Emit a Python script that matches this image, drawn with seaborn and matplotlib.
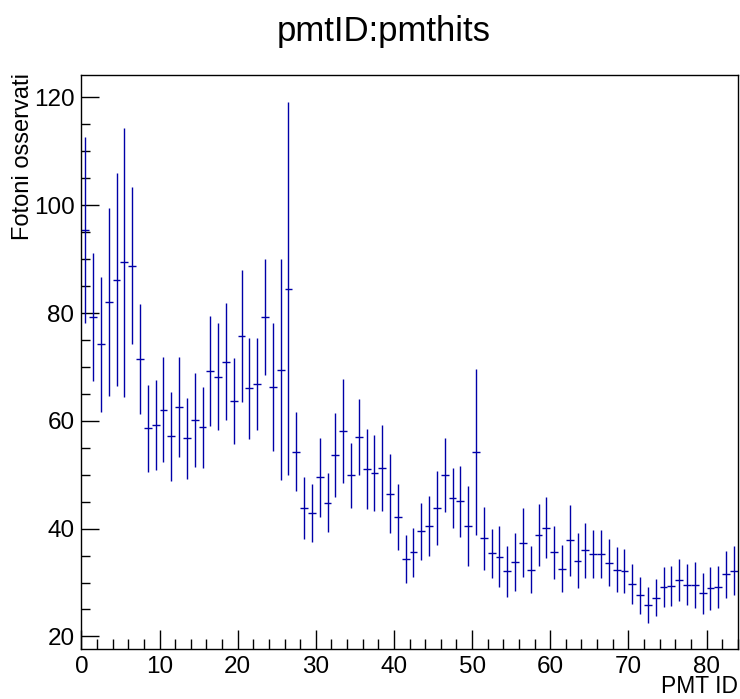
import numpy as np
import pandas as pd
import seaborn as sns
import matplotlib
matplotlib.use('Agg')
import matplotlib.pyplot as plt
from matplotlib.ticker import MultipleLocator

# ---- data (mean photons per PMT, error on the mean) ----
pmt_id = list(range(84))
mean_hits = [95.4, 79.2, 74.2, 82.0, 86.2, 89.4, 88.8, 71.4, 58.6, 59.2,
             62.1, 57.1, 62.6, 56.8, 60.2, 58.8, 69.2, 68.2, 71.0, 63.7,
             75.7, 66.0, 66.8, 79.3, 66.3, 69.5, 84.5, 54.3, 43.8, 42.9,
             49.5, 44.8, 53.7, 58.1, 49.9, 57.0, 51.1, 50.3, 51.3, 46.5,
             42.2, 34.4, 35.6, 39.5, 40.5, 43.8, 49.9, 45.7, 45.1, 40.5,
             54.3, 38.2, 35.4, 34.8, 32.1, 33.8, 37.4, 32.4, 38.8, 40.2,
             35.6, 32.6, 37.8, 34.0, 36.0, 35.3, 35.3, 33.7, 32.4, 32.2,
             29.8, 27.6, 25.8, 27.2, 29.2, 29.4, 30.4, 29.6, 29.6, 28.0,
             28.9, 29.2, 31.5, 32.2]
err_hits = [17.3, 11.9, 12.5, 17.4, 19.7, 24.9, 14.6, 10.2, 8.1, 8.3,
            9.8, 8.3, 9.3, 7.5, 8.7, 7.5, 10.2, 9.9, 10.8, 8.0,
            12.2, 9.3, 8.5, 10.8, 11.9, 20.5, 34.6, 7.3, 5.7, 5.3,
            7.3, 5.5, 7.8, 9.7, 6.0, 7.1, 7.4, 7.1, 8.0, 7.3,
            6.1, 4.4, 4.5, 5.3, 5.5, 6.8, 6.9, 5.6, 6.6, 7.4,
            15.4, 5.8, 4.6, 5.6, 4.7, 5.3, 6.4, 4.4, 5.7, 5.6,
            4.9, 4.3, 6.6, 5.1, 5.1, 4.5, 4.5, 4.3, 4.1, 4.1,
            3.7, 3.5, 3.3, 3.4, 3.7, 3.7, 3.9, 3.8, 4.3, 3.8,
            4.0, 3.9, 4.3, 4.6]

df = pd.DataFrame({'pmt': pmt_id, 'hits': mean_hits, 'err': err_hits})
df['center'] = df['pmt'] + 0.5

sns.set_theme(style='white')
plt.rcParams['font.family'] = ['Liberation Sans', 'DejaVu Sans']
plt.rcParams['text.color'] = 'black'
plt.rcParams['xtick.color'] = 'black'
plt.rcParams['ytick.color'] = 'black'

fig = plt.figure(figsize=(7.4, 6.99), dpi=100)
ax = fig.add_axes([0.110, 0.071, 0.887, 0.822])

ax.errorbar(df['center'], df['hits'], xerr=0.5, yerr=df['err'],
            fmt='none', ecolor='#0000a8', elinewidth=1.0, capsize=0)

ax.set_xlim(0, 84)
ax.set_ylim(17.6, 124.2)

ax.xaxis.set_major_locator(MultipleLocator(10))
ax.xaxis.set_minor_locator(MultipleLocator(2))
ax.yaxis.set_major_locator(MultipleLocator(20))
ax.yaxis.set_minor_locator(MultipleLocator(5))

ax.tick_params(axis='x', which='major', direction='in', length=14, width=1,
               labelsize=17.5, pad=4.5, bottom=True, top=False, color='black',
               labelcolor='black')
ax.tick_params(axis='x', which='minor', direction='in', length=7, width=1,
               bottom=True, top=False, color='black')
ax.tick_params(axis='y', which='major', direction='in', length=13, width=1,
               labelsize=17.5, pad=5, left=True, right=False, color='black',
               labelcolor='black')
ax.tick_params(axis='y', which='minor', direction='in', length=6.5, width=1,
               left=True, right=False, color='black')

for s in ax.spines.values():
    s.set_color('black')
    s.set_linewidth(1.0)

ax.set_xlabel('')
ax.set_ylabel('')
fig.text(738 / 740, 1 - 698 / 699, 'PMT ID', ha='right', va='bottom',
         fontsize=16.5, color='black')
fig.text(23 / 740, 1 - 73 / 699, 'Fotoni osservati', ha='center', va='top',
         rotation=90, fontsize=17, color='black')
fig.text(384 / 740, 1 - 31 / 699, 'pmtID:pmthits', ha='center', va='center',
         fontsize=25, color='black')

fig.savefig('out.png', dpi=100, facecolor='white')
